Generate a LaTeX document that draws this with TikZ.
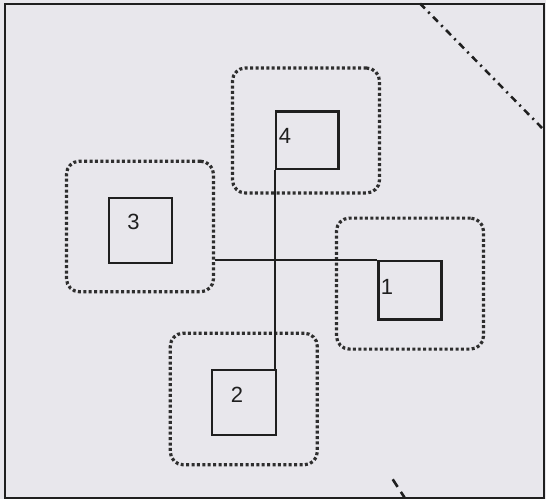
\documentclass[tikz,border=0pt]{standalone}
\usepackage{fontspec}
\setmainfont{Liberation Sans}
\usepackage{tikz}
\usetikzlibrary{positioning}
\definecolor{prtpaper}{RGB}{232,231,236}
\colorlet{prtink}{black!88}
\colorlet{prtdots}{black!82}
\tikzset{
  prtcell/.style={draw=prtink,line width=2.3pt,inner sep=0pt},
  prtzone/.style={draw=prtdots,line width=3.2pt,rounded corners=13pt,
                  dash pattern=on 3pt off 2.4pt,inner sep=0pt,
                  minimum width=147pt},
  prtnum/.style={font=\fontsize{22}{26}\selectfont,text=prtink,inner sep=0pt},
  prtlink/.style={draw=prtink,line width=2.1pt},
  prtcut/.style={draw=prtink,line width=2.6pt,
                 dash pattern=on 7pt off 4.8pt on 2pt off 4.8pt}
}
\begin{document}
\begin{tikzpicture}[x=1pt,y=-1pt]
  \useasboundingbox[fill=prtpaper] (0,0) rectangle (546,499);
  \draw[prtink,line width=2.4pt] (5,4) rectangle (544,498);

  % dotted zones
  \node[prtzone,minimum height=125pt] (z4) at (306,130.5) {};
  \node[prtzone,minimum height=130.6pt] (z3) at (140,226.5) {};
  \node[prtzone,minimum height=131pt] (z1) at (410,283.6) {};
  \node[prtzone,minimum height=131.6pt] (z2) at (243.8,399) {};

  % cells
  \node[prtcell,minimum width=62.5pt,minimum height=57.8pt] (b4) at (307.3,140.3) {};
  \node[prtcell,minimum width=63pt,minimum height=65pt] (b3) at (140.5,230.5) {};
  \node[prtcell,minimum width=63pt,minimum height=58.6pt] (b1) at (410,290.3) {};
  \node[prtcell,minimum width=64.4pt,minimum height=65.4pt] (b2) at (244,402.5) {};

  \node[prtnum] (n4) at (285,136) {4};
  \node[prtnum] (n3) at (133.5,222) {3};
  \node[prtnum] (n1) at (387,286.5) {1};
  \node[prtnum] (n2) at (237,394.5) {2};

  \draw[prtlink] (b4.south west) -- (b4.south west |- b2.north);
  \draw[prtlink] (z3.east |- b1.north west) -- (b1.north west);

  % cut lines
  \coordinate (cuta) at (420,3.5);
  \coordinate (cutb) at (544,130);
  \coordinate (cutc) at (392.7,479.3);
  \coordinate (cutd) at (404.5,497.5);
  \draw[prtcut] (cuta) -- (cutb);
  \draw[prtcut,dash pattern=on 9pt off 6pt] (cutc) -- (cutd);
\end{tikzpicture}
\end{document}
